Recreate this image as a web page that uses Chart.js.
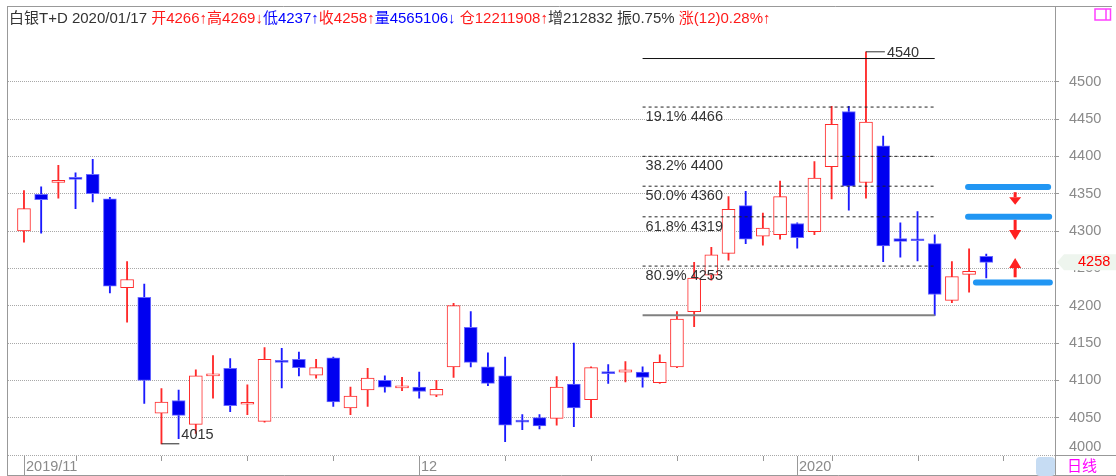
<!DOCTYPE html>
<html lang="zh-CN">
<head>
  <meta charset="UTF-8" />
  <title>白银T+D 日线</title>
  <script src="https://cdn.jsdelivr.net/npm/chart.js"></script>
  <style>
    body { margin: 0; background: #fff; }
    .wrap { position: relative; width: 1116px; height: 476px; }
    canvas { position: absolute; left: 0; top: 0; }
    .head { position: absolute; left: 9px; top: 9px; font: 15px 'Liberation Sans', Arial, 'Noto Sans CJK SC', sans-serif; line-height: 17px; white-space: nowrap; color: #333; }
    .r { color: #ff1a1a; }
    .b { color: #0000ff; }
  </style>
</head>
<body>
  <div class="wrap">
    <canvas id="grafico" width="1116" height="476"></canvas>
    <div class="head">白银T+D 2020/01/17 <span class="r">开4266↑高4269↓</span><span class="b">低4237↑</span><span class="r">收4258↑</span><span class="b">量4565106↓</span> <span class="r">仓12211908↑</span>增212832 振0.75% <span class="r">涨(12)0.28%↑</span></div>
  </div>

  <script>
    // K线数据 (日线, 2019/11 - 2020/01/17)
    const abertura = [4300,4349,4365,4372,4376,4343,4224,4211,4056,4073,4041,4106,4116,4068,4045,4125,4128,4107,4130,4063,
                      4087,4100,4090,4091,4080,4118,4171,4118,4106,4046,4050,4049,4095,4074,4110,4111,4111,4097,4118,4192,
                      4241,4270,4334,4293,4295,4310,4299,4386,4460,4365,4414,4290,4289,4283,4207,4242,4266];
    const maxima   = [4354,4359,4388,4378,4396,4345,4259,4229,4089,4087,4114,4133,4129,4094,4144,4143,4138,4128,4131,4091,
                      4116,4106,4104,4111,4100,4203,4192,4137,4131,4054,4054,4105,4150,4118,4121,4125,4118,4134,4192,4258,
                      4278,4346,4353,4324,4367,4311,4393,4467,4467,4540,4427,4311,4326,4295,4259,4276,4269];
    const minima   = [4285,4297,4344,4330,4339,4217,4178,4069,4015,4022,4029,4076,4058,4054,4044,4090,4106,4103,4065,4054,
                      4065,4084,4086,4076,4078,4104,4118,4093,4018,4034,4035,4040,4038,4050,4096,4098,4091,4096,4117,4172,
                      4234,4261,4283,4281,4289,4277,4295,4343,4328,4344,4259,4265,4260,4187,4204,4218,4237];
    const fecho    = [4330,4342,4368,4369,4350,4226,4235,4100,4071,4053,4106,4107,4066,4069,4128,4124,4117,4117,4071,4079,
                      4103,4091,4091,4085,4088,4200,4124,4096,4040,4044,4039,4091,4063,4117,4109,4114,4104,4124,4182,4237,
                      4268,4329,4289,4304,4346,4291,4371,4443,4360,4446,4280,4286,4287,4215,4239,4246,4258];

    const yTicks = [4000,4050,4100,4150,4200,4250,4300,4350,4400,4450,4500];
    const mesesIdx = [0, 23, 45];
    const mesesTxt = ['2019/11', '12', '2020'];
    const marcasX = [3,8,13,18,23,28,33,38,43,47,52,57];

    // 黄金分割线
    const fibTopo = 4531, fibBase = 4187, fibIni = 36, fibFim = 53;
    const fibNiveis = [4466, 4400, 4360, 4319, 4253];
    const fibTextos = ['19.1% 4466', '38.2% 4400', '50.0% 4360', '61.8% 4319', '80.9% 4253'];

    // 画线与信号
    const linhasAzuis = [[54.94, 59.6, 4359], [54.94, 59.66, 4319], [55.4, 59.7, 4231]];
    const setasX = 57.68;
    const setas = [[4352, 4335], [4315, 4288], [4238, 4264]]; // [cauda, ponta]
    const ultimo = 4258;

    const fonte = "'Liberation Sans', Arial, 'Noto Sans CJK SC', sans-serif";
    const idx = abertura.map((_, i) => i);
    const sobe = idx.map(i => fecho[i] >= abertura[i]);

    const linha = (pts, cor, larg, dash) => ({
      type: 'line', data: pts.map(p => ({x: p[0], y: p[1]})), borderColor: cor, borderWidth: larg,
      borderDash: dash || [], pointRadius: 0, order: 0, clip: false, borderCapStyle: 'butt'
    });

    const datasets = [
      { label: 'corpo', data: idx.map(i => ({x: i, y: [abertura[i], fecho[i]]})),
        backgroundColor: idx.map(i => sobe[i] ? '#ffffff' : '#0000f0'),
        borderColor: idx.map(i => sobe[i] ? '#ff2a2a' : '#6a6aff'),
        borderWidth: 1, borderSkipped: false, barThickness: 13, minBarLength: 2, grouped: false, order: 1 },
      { label: 'sombra', data: idx.map(i => ({x: i, y: [minima[i], maxima[i]]})),
        backgroundColor: idx.map(i => sobe[i] ? '#ff2a2a' : '#1a1aff'),
        barThickness: 1.2, grouped: false, order: 2 },
      linha([[fibIni, fibTopo], [fibFim, fibTopo]], '#111', 1),
      linha([[fibIni, fibBase], [fibFim, fibBase]], '#808080', 2),
      ...fibNiveis.map(v => linha([[fibIni, v], [fibFim, v]], '#222', 1, [3, 3])),
      linha([[49, 4540], [50.1, 4540]], '#333', 1),
      linha([[8, 4015], [9.04, 4015]], '#222', 1),
      ...linhasAzuis.map(l => ({ ...linha([[l[0], l[2]], [l[1], l[2]]], '#2196f3', 6), borderCapStyle: 'round' }))
    ];

    const extras = {
      id: 'extras',
      beforeDraw(chart) {
        const c = chart.ctx;
        c.save(); c.fillStyle = '#fff'; c.fillRect(0, 0, chart.width, chart.height); c.restore();
      },
      afterDraw(chart) {
        const c = chart.ctx, xs = chart.scales.x, ys = chart.scales.y;
        const px = v => xs.getPixelForValue(v), py = v => ys.getPixelForValue(v);
        c.save();
        // moldura
        c.strokeStyle = '#999'; c.lineWidth = 1;
        c.beginPath();
        c.moveTo(7.5, 6); c.lineTo(7.5, 476);
        c.moveTo(7, 6.5); c.lineTo(1112, 6.5);
        c.moveTo(1055.5, 6); c.lineTo(1055.5, 476);
        c.moveTo(1055, 455.5); c.lineTo(1116, 455.5);
        c.moveTo(7, 475.5); c.lineTo(1116, 475.5);
        c.stroke();

        // eixo X
        c.fillStyle = '#c6dcf3';
        c.beginPath(); c.roundRect(1036, 457, 19, 19, 4); c.fill();
        c.strokeStyle = '#999';
        c.beginPath();
        marcasX.forEach(i => { const x = Math.round(px(i)) + 0.5; c.moveTo(x, 456); c.lineTo(x, 461); });
        mesesIdx.forEach(i => { const x = Math.round(px(i)) + 0.5; c.moveTo(x, 456); c.lineTo(x, 476); });
        c.stroke();
        c.font = '14.5px ' + fonte; c.fillStyle = '#8a8a8a'; c.textBaseline = 'middle'; c.textAlign = 'left';
        mesesIdx.forEach((i, k) => c.fillText(mesesTxt[k], Math.round(px(i)) + 2, 467));
        c.fillText('4000', 1069, 447);
        c.fillStyle = '#ff00ff'; c.font = '15px ' + fonte;
        c.fillText('日线', 1067, 467);

        // ícone
        c.strokeStyle = '#ff40ff'; c.lineWidth = 1.5;
        c.strokeRect(1095, 9, 15.5, 11); 
        c.beginPath(); c.moveTo(1106, 9); c.lineTo(1106, 20); c.stroke();

        // textos do fibonacci e extremos
        c.font = '14.5px ' + fonte; c.fillStyle = '#333';
        fibNiveis.forEach((v, k) => c.fillText(fibTextos[k], px(fibIni) + 3, py(v) + 10));
        c.fillText('4540', px(50.1) + 2, py(4540) + 1);
        c.fillText('4015', px(9.04) + 2, py(4015) - 9);

        // setas vermelhas
        c.fillStyle = '#ff2020';
        setas.forEach(([cauda, ponta]) => {
          const x = px(setasX), y0 = py(cauda), y1 = py(ponta);
          const d = Math.sign(y1 - y0), cab = Math.min(10, Math.abs(y1 - y0) * 0.6);
          c.fillRect(x - 1.5, Math.min(y0, y1 - d * cab), 3, Math.abs(y1 - d * cab - y0));
          c.beginPath();
          c.moveTo(x - 6, y1 - d * cab); c.lineTo(x + 6, y1 - d * cab); c.lineTo(x, y1); c.closePath(); c.fill();
        });

        // etiqueta do último preço
        const yp = py(ultimo);
        c.fillStyle = '#eef5ee';
        c.beginPath();
        c.moveTo(1057, yp); c.lineTo(1064, yp - 8); c.lineTo(1116, yp - 8); c.lineTo(1116, yp + 8); c.lineTo(1064, yp + 8);
        c.closePath(); c.fill();
        c.fillStyle = '#ff0000'; c.font = '14.5px ' + fonte;
        c.fillText(String(ultimo), 1078, yp);
        c.restore();
      }
    };

    new Chart(document.getElementById('grafico'), {
      type: 'bar',
      data: { datasets },
      options: {
        responsive: false, animation: false,
        layout: { padding: { top: 29.4, bottom: 21, left: 8, right: 0 } },
        plugins: { legend: { display: false }, tooltip: { enabled: false } },
        scales: {
          x: { type: 'linear', min: -0.93, max: 60, display: false, offset: false, grid: { offset: false } },
          y: {
            position: 'right', min: 4000, max: 4570,
            afterBuildTicks: s => { s.ticks = yTicks.map(v => ({ value: v })); },
            afterFit: s => { s.width = 61; },
            grid: { color: '#a8a8a8', lineWidth: 1, tickLength: 4, tickColor: '#999', tickBorderDash: [] },
            border: { display: true, color: '#999', dash: [1, 1] },
            ticks: { color: '#8a8a8a', padding: 10, font: { family: fonte, size: 14.5 },
                     callback: v => v === 4000 ? '' : String(v) }
          }
        }
      },
      plugins: [extras]
    });
  </script>
</body>
</html>
